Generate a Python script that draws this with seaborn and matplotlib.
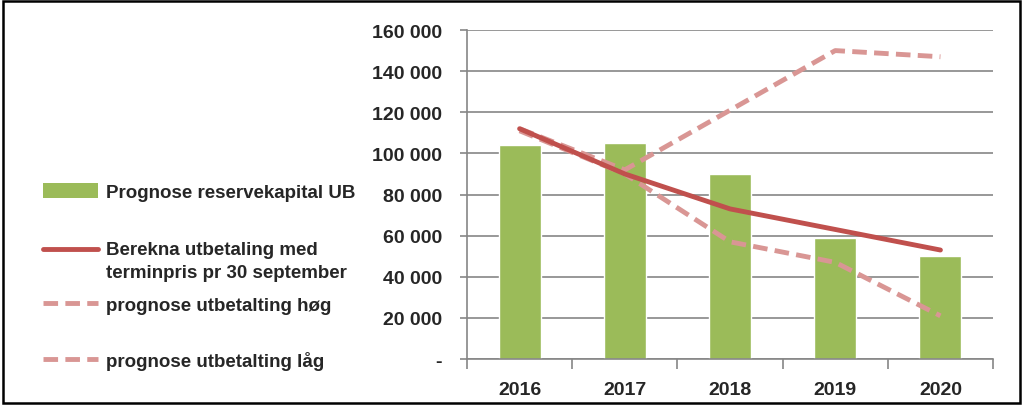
import numpy as np
import pandas as pd
import seaborn as sns
import matplotlib
matplotlib.use("Agg")
from matplotlib import pyplot as plt
from matplotlib.patches import Patch
from matplotlib.lines import Line2D
from matplotlib.legend_handler import HandlerLine2D
from matplotlib.ticker import FuncFormatter

years = ["2016", "2017", "2018", "2019", "2020"]
reservekapital = [104000, 105000, 90000, 59000, 50000]
berekna = [112000, 90000, 73000, 63000, 53000]
prognose_hog = [112000, 92000, 121000, 150000, 147000]
prognose_lag = [111000, 90000, 57000, 47000, 21000]

labels = ["Prognose reservekapital UB",
          "Berekna utbetaling med\nterminpris pr 30 september",
          "prognose utbetalting høg",
          "prognose utbetalting låg"]

green = "#9BBB59"
red = "#C0504D"
pink = "#D99694"
dash = (0, (3, 1.5))


class FirstLineHandler(HandlerLine2D):
    # put the line level with the first text line, as Excel does
    def create_artists(self, legend, orig_handle, xdescent, ydescent,
                       width, height, fontsize, trans):
        return super().create_artists(legend, orig_handle, xdescent,
                                      ydescent - 17, width, height,
                                      fontsize, trans)


sns.set_style("white")
plt.rcParams["font.family"] = ["Liberation Sans", "DejaVu Sans"]
plt.rcParams["font.weight"] = "bold"

fig = plt.figure(figsize=(10.23, 4.06), dpi=100)
ax = fig.add_axes([0.4565, 0.1133, 0.5142, 0.8103])

df = pd.DataFrame({"year": years, "value": reservekapital})
sns.barplot(data=df, x="year", y="value", color=green, width=0.4,
            saturation=1, ax=ax, zorder=2)

x = np.arange(len(years))
sns.lineplot(x=x, y=prognose_hog, color=pink, lw=3.5, ax=ax, zorder=3,
             linestyle=dash)
sns.lineplot(x=x, y=prognose_lag, color=pink, lw=3.5, ax=ax, zorder=3,
             linestyle=dash)
sns.lineplot(x=x, y=berekna, color=red, lw=3.5, ax=ax, zorder=4)

ax.set_xlim(-0.5, 4.5)
ax.set_ylim(0, 160000)
ax.set_yticks(np.arange(0, 160001, 20000))
ax.yaxis.set_major_formatter(FuncFormatter(
    lambda v, p: "-" if v == 0 else f"{int(v):,}".replace(",", " ")))
ax.set_xlabel("")
ax.set_ylabel("")
ax.grid(axis="y", color="#868686", lw=1.2, zorder=0)
ax.set_axisbelow(True)

for s in ["top", "right"]:
    ax.spines[s].set_visible(False)
for s in ["left", "bottom"]:
    ax.spines[s].set_color("#868686")
    ax.spines[s].set_linewidth(1.2)

ax.set_xticks(x)
ax.set_xticklabels(years)
ax.set_xticks(np.arange(-0.5, 5, 1), minor=True)
ax.tick_params(axis="x", which="major", length=0, pad=16, labelsize=14)
ax.tick_params(axis="x", which="minor", length=7, color="#868686", width=1.2,
               direction="out", bottom=True)
ax.tick_params(axis="y", length=5, color="#868686", width=1.2, left=True,
               labelsize=14, pad=13)
for t in ax.get_xticklabels() + ax.get_yticklabels():
    t.set_fontweight("bold")

handles = [Patch(facecolor=green, edgecolor="none"),
           Line2D([], [], color=red, lw=3.5),
           Line2D([], [], color=pink, lw=3.5, linestyle=dash),
           Line2D([], [], color=pink, lw=3.5, linestyle=dash)]
# Excel-like legend: one entry per slot, uneven spacing
slots = [193, 262, 306, 362]
for i, (h, lab, yp) in enumerate(zip(handles, labels, slots)):
    hmap = {h: FirstLineHandler()} if i == 1 else None
    leg = fig.legend([h], [lab], loc="center left",
                     bbox_to_anchor=(43 / 1023, 1 - yp / 406),
                     frameon=False, handlelength=2.95, handleheight=0.9,
                     handletextpad=0.4, borderpad=0, borderaxespad=0,
                     handler_map=hmap,
                     prop={"weight": "bold", "size": 13.5})
    for t in leg.get_texts():
        t.set_linespacing(1.45)

border = plt.Rectangle((0.003, 0.006), 0.994, 0.99, transform=fig.transFigure,
                       fill=False, edgecolor="black", lw=1.8)
fig.patches.append(border)

fig.savefig("out.png", dpi=100)
